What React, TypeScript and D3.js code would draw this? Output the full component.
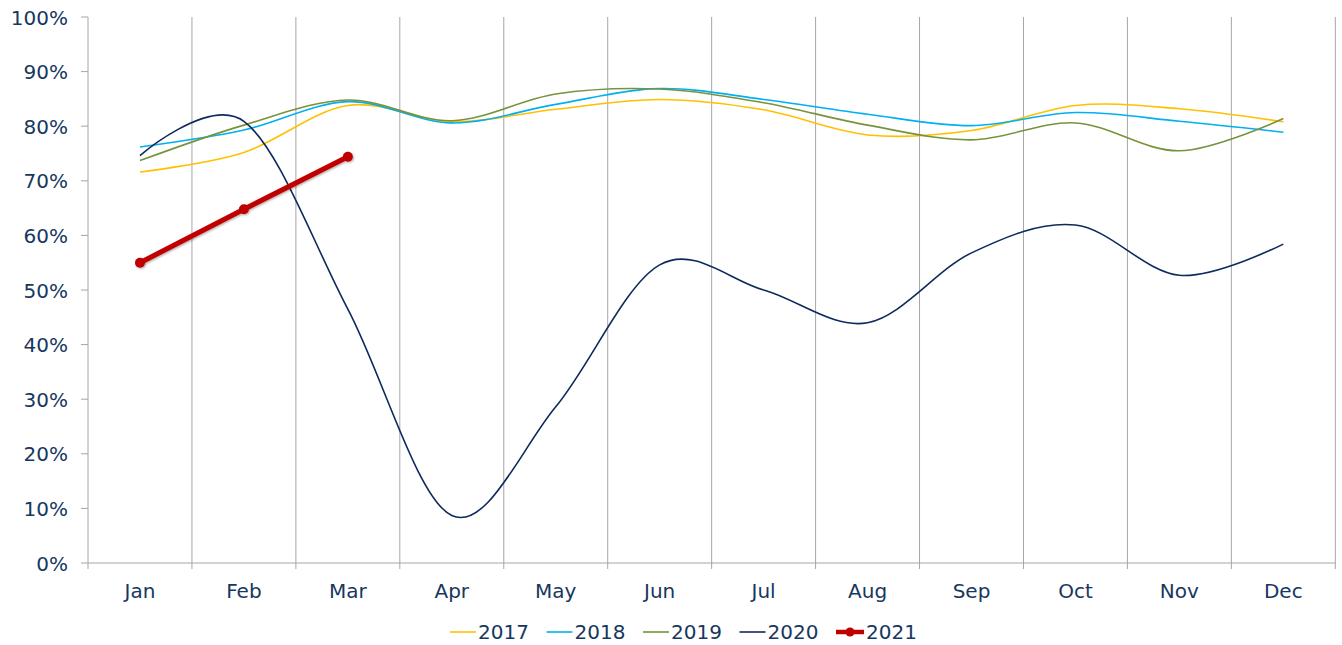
import React from "react";
import * as d3 from "d3";

const months = ["Jan", "Feb", "Mar", "Apr", "May", "Jun", "Jul", "Aug", "Sep", "Oct", "Nov", "Dec"];
const yTicks = [0, 0.1, 0.2, 0.3, 0.4, 0.5, 0.6, 0.7, 0.8, 0.9, 1.0];

const s2017 = [71.6, 75.2, 83.8, 80.8, 83.1, 84.9, 83.0, 78.4, 79.2, 83.8, 83.2, 80.8];
const s2018 = [76.2, 79.3, 84.5, 80.6, 84.0, 86.9, 84.9, 82.2, 80.1, 82.5, 80.9, 78.9];
const s2019 = [73.7, 80.2, 84.8, 81.0, 85.9, 86.8, 84.3, 80.2, 77.5, 80.6, 75.5, 81.4];
const s2020 = [74.6, 80.9, 46.5, 8.7, 28.6, 54.6, 50.0, 44.0, 56.8, 61.9, 52.7, 58.4];
const s2021 = [55.0, 64.8, 74.4];

const seriesNames = ["2017", "2018", "2019", "2020", "2021"];
const seriesColors = ["#FFC000", "#00B0F0", "#77933C", "#0E2A5C", "#C00000"];

const W = 1342;
const H = 645;
const LEFT = 88;
const RIGHT = 1335.3;
const TOP = 17;
const BOTTOM = 563;
const TEXT = "#17375E";
const GRID = "#A6A6A6";
const FONT = "'DejaVu Sans', Verdana, sans-serif";

export default function App() {
  const x = d3.scaleBand<string>().domain(months).range([LEFT, RIGHT]).padding(0);
  const y = d3.scaleLinear().domain([0, 1]).range([BOTTOM, TOP]);
  const cx = (i: number) => (x(months[i]) as number) + x.bandwidth() / 2;

  const smooth = d3
    .line<number>()
    .x((_, i) => cx(i))
    .y((v) => y(v / 100))
    .curve(d3.curveCardinal.tension(0));
  const straight = d3
    .line<number>()
    .x((_, i) => cx(i))
    .y((v) => y(v / 100));

  const smoothSeries = [s2017, s2018, s2019, s2020];
  const boundaries = months.map((m) => x(m) as number).concat([RIGHT]);

  const legendStart = 450;
  const legendStep = 96.5;
  const legendY = 632;

  return (
    <svg
      width={W}
      height={H}
      style={{ position: "absolute", left: 0, top: 0, background: "#fff" }}
      fontFamily={FONT}
    >
      <defs>
        <filter id="shadow" x="-50%" y="-50%" width="200%" height="200%">
          <feDropShadow dx="1" dy="1" stdDeviation="1" floodColor="#000" floodOpacity="0.35" />
        </filter>
      </defs>
      {/* vertical gridlines */}
      {boundaries.map((b, i) => (
        <line key={"g" + i} x1={b} x2={b} y1={TOP} y2={BOTTOM + 6} stroke={GRID} strokeWidth={1} />
      ))}
      {/* axes */}
      <line x1={LEFT} x2={RIGHT} y1={BOTTOM} y2={BOTTOM} stroke={GRID} strokeWidth={1} />
      {yTicks.map((t) => (
        <g key={"y" + t}>
          <line x1={LEFT - 7} x2={LEFT} y1={y(t)} y2={y(t)} stroke={GRID} strokeWidth={1} />
          <text x={68} y={y(t) + 7.5} textAnchor="end" fontSize={20} fill={TEXT}>
            {d3.format(".0%")(t)}
          </text>
        </g>
      ))}
      {months.map((m, i) => (
        <text key={m} x={cx(i)} y={598} textAnchor="middle" fontSize={20} fill={TEXT}>
          {m}
        </text>
      ))}
      {/* smooth series */}
      {smoothSeries.map((s, k) => (
        <path key={"s" + k} d={smooth(s) as string} fill="none" stroke={seriesColors[k]} strokeWidth={1.6} />
      ))}
      {/* 2021 */}
      <g filter="url(#shadow)">
        <path d={straight(s2021) as string} fill="none" stroke={seriesColors[4]} strokeWidth={5} strokeLinecap="round" />
        {s2021.map((v, i) => (
          <circle key={"m" + i} cx={cx(i)} cy={y(v / 100)} r={5} fill={seriesColors[4]} />
        ))}
      </g>
      {/* legend */}
      {seriesNames.map((n, k) => {
        const lx = legendStart + k * legendStep;
        const is21 = k === 4;
        return (
          <g key={"l" + n}>
            <line
              x1={lx}
              x2={lx + (is21 ? 28 : 26)}
              y1={legendY}
              y2={legendY}
              stroke={seriesColors[k]}
              strokeWidth={is21 ? 4.5 : 1.6}
            />
            {is21 && <circle cx={lx + 14} cy={legendY} r={4.5} fill={seriesColors[k]} />}
            <text x={lx + (is21 ? 30 : 28)} y={638.5} fontSize={20} fill={TEXT}>
              {n}
            </text>
          </g>
        );
      })}
    </svg>
  );
}
